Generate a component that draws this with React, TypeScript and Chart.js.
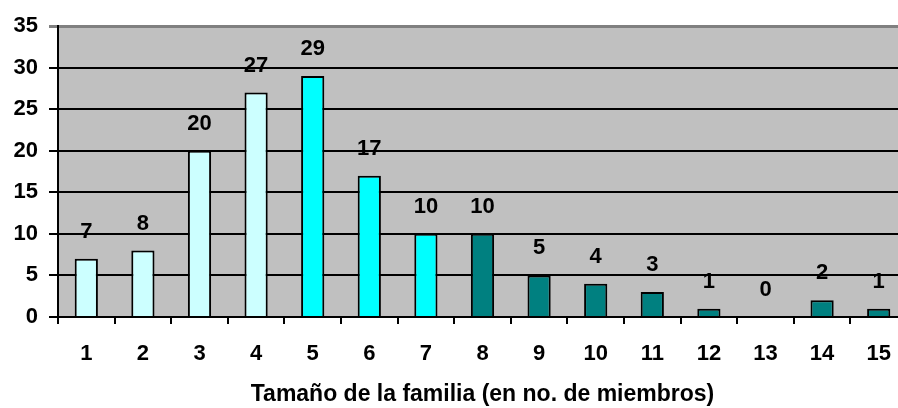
import React, { useEffect, useRef } from "react";
import { Chart, registerables } from "chart.js";

Chart.register(...registerables);

const categories = ["1", "2", "3", "4", "5", "6", "7", "8", "9", "10", "11", "12", "13", "14", "15"];
const familyCounts = [7, 8, 20, 27, 29, 17, 10, 10, 5, 4, 3, 1, 0, 2, 1];
const barColors = [
  "#CCFFFF", "#CCFFFF", "#CCFFFF", "#CCFFFF",
  "#00FFFF", "#00FFFF", "#00FFFF",
  "#008080", "#008080", "#008080", "#008080", "#008080", "#008080", "#008080", "#008080",
];
const yTicks = [0, 5, 10, 15, 20, 25, 30, 35];
const xTitle = "Tamaño de la familia (en no. de miembros)";

const FONT = "'Liberation Sans', Arial, sans-serif";
const FS = 22;
const TFS = 23;

const bgPlugin = {
  id: "plotBg",
  beforeDraw(chart: any) {
    const { ctx, chartArea } = chart;
    ctx.save();
    ctx.fillStyle = "#C0C0C0";
    ctx.fillRect(chartArea.left, chartArea.top, chartArea.right - chartArea.left, chartArea.bottom - chartArea.top);
    ctx.restore();
  },
};

const labelPlugin = {
  id: "valueLabels",
  afterDatasetsDraw(chart: any) {
    const { ctx } = chart;
    const meta = chart.getDatasetMeta(0);
    const data = chart.data.datasets[0].data;
    ctx.save();
    ctx.font = `bold ${FS}px ${FONT}`;
    ctx.fillStyle = "#000";
    ctx.textAlign = "center";
    ctx.textBaseline = "middle";
    meta.data.forEach((el: any, i: number) => {
      ctx.fillText(String(data[i]), el.x, el.y - 27);
    });
    ctx.restore();
  },
};

export default function App() {
  const ref = useRef<HTMLCanvasElement | null>(null);
  useEffect(() => {
    if (!ref.current) return;
    const chart = new Chart(ref.current, {
      type: "bar",
      data: {
        labels: categories,
        datasets: [
          {
            data: familyCounts,
            backgroundColor: barColors,
            borderColor: "#000",
            borderWidth: 2,
            barPercentage: 0.41,
            categoryPercentage: 1,
          },
        ],
      },
      options: {
        animation: false,
        responsive: true,
        maintainAspectRatio: false,
        layout: { padding: { left: 0, right: 3, top: 26, bottom: 0 } },
        plugins: { legend: { display: false }, tooltip: { enabled: false } },
        scales: {
          x: {
            grid: {
              offset: true,
              drawOnChartArea: false,
              drawTicks: true,
              tickLength: 7,
              color: "#000",
              lineWidth: 2,
            },
            border: { color: "#000", width: 2 },
            ticks: {
              color: "#000",
              font: { family: FONT, size: FS, weight: "bold" },
              padding: 17,
              maxRotation: 0,
              autoSkip: false,
            },
            title: {
              display: true,
              text: xTitle,
              color: "#000",
              font: { family: FONT, size: TFS, weight: "bold" },
              padding: 0,
            },
            afterFit: (s: any) => {
              s.height = 91;
            },
          },
          y: {
            min: 0,
            max: 35,
            afterBuildTicks: (s: any) => {
              s.ticks = yTicks.map((v) => ({ value: v }));
            },
            grid: {
              color: (c: any) => (c.tick && c.tick.value === 35 ? "#808080" : "#000"),
              lineWidth: (c: any) => (c.tick && c.tick.value === 35 ? 3 : 2),
              tickLength: 9,
              drawTicks: true,
            },
            border: { color: "#000", width: 2 },
            ticks: {
              color: "#000",
              font: { family: FONT, size: FS, weight: "bold" },
              padding: 11,
            },
            afterFit: (s: any) => {
              s.width = 58;
            },
          },
        },
      },
      plugins: [bgPlugin, labelPlugin],
    });
    return () => chart.destroy();
  }, []);

  return (
    <div style={{ position: "fixed", left: 0, top: 0, width: 898, height: 408, overflow: "hidden", background: "#fff" }}>
      <div style={{ position: "relative", width: 910, height: 408 }}>
        <canvas ref={ref} />
      </div>
    </div>
  );
}
